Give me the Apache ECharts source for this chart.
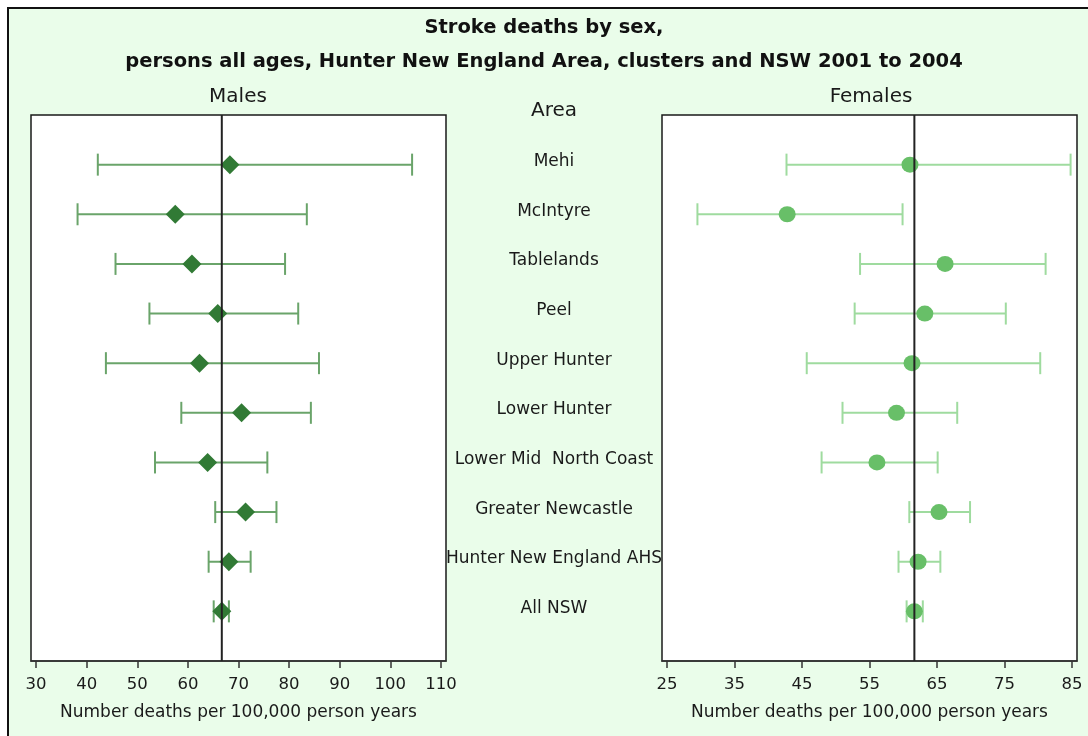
<!DOCTYPE html>
<html>
<head>
<meta charset="utf-8">
<script src="https://cdn.jsdelivr.net/npm/echarts@6/dist/echarts.min.js"></script>
<style>
  html, body { margin: 0; padding: 0; background: #ffffff; }
  #chart { width: 1088px; height: 736px; }
</style>
</head>
<body>
<div id="chart"></div>
<script>
// Stroke death rates (per 100,000 person years) with 95% confidence limits, 2001-2004
const areas = ['Mehi', 'McIntyre', 'Tablelands', 'Peel', 'Upper Hunter', 'Lower Hunter',
  'Lower Mid  North Coast', 'Greater Newcastle', 'Hunter New England AHS', 'All NSW'];

const maleRate = [68.3, 57.5, 60.8, 65.9, 62.3, 70.6, 63.9, 71.4, 68.1, 66.7];
const maleLow  = [42.2, 38.2, 45.7, 52.4, 43.8, 58.7, 53.5, 65.4, 64.1, 65.1];
const maleHigh = [104.3, 83.5, 79.2, 81.8, 85.9, 84.3, 75.7, 77.5, 72.4, 68.1];

const femaleRate = [61.0, 42.8, 66.2, 63.2, 61.3, 59.0, 56.1, 65.3, 62.2, 61.65];
const femaleLow  = [42.7, 29.5, 53.6, 52.8, 45.7, 51.0, 47.9, 60.9, 59.3, 60.5];
const femaleHigh = [84.8, 59.9, 81.1, 75.2, 80.3, 68.0, 65.1, 69.9, 65.5, 62.9];

const maleTicks = [30, 40, 50, 60, 70, 80, 90, 100, 110];
const femaleTicks = [25, 35, 45, 55, 65, 75, 85];

const FONT = 'DejaVu Sans';
const MALE_MARK = '#317a35';
const MALE_BAR = '#6aa46a';
const FEMALE_MARK = '#68bf68';
const FEMALE_BAR = '#9fdb9f';

// rows are numbered 1..N from the top; the reference (All NSW) rate is the last row
const rows = areas.map((_, i) => i + 1);
const nRows = areas.length + 1;

function barData(low, high) {
  return rows.map((r, i) => [r, low[i], high[i]]);
}
function pointData(rate) {
  return rows.map((r, i) => [rate[i], r]);
}

function errorBarRenderer(color) {
  return function (params, api) {
    const y = api.value(0);
    const a = api.coord([api.value(1), y]);
    const b = api.coord([api.value(2), y]);
    const cap = 11;
    const style = { stroke: color, lineWidth: 2 };
    return {
      type: 'group',
      children: [
        { type: 'line', shape: { x1: a[0], y1: a[1], x2: b[0], y2: b[1] }, style: style },
        { type: 'line', shape: { x1: a[0], y1: a[1] - cap, x2: a[0], y2: a[1] + cap }, style: style },
        { type: 'line', shape: { x1: b[0], y1: b[1] - cap, x2: b[0], y2: b[1] + cap }, style: style }
      ]
    };
  };
}

function refLineRenderer(params, api) {
  const top = api.coord([api.value(0), 0]);
  const bottom = api.coord([api.value(0), nRows]);
  return {
    type: 'line',
    shape: { x1: top[0], y1: top[1], x2: bottom[0], y2: bottom[1] },
    style: { stroke: '#222222', lineWidth: 2 }
  };
}

function areaLabelRenderer(params, api) {
  const p = api.coord([0, api.value(1)]);
  return {
    type: 'text',
    x: p[0], y: p[1] - 3,
    style: {
      text: areas[params.dataIndex], fill: '#1a1a1a',
      font: '17px "DejaVu Sans"', align: 'center', verticalAlign: 'middle'
    }
  };
}

function valueAxis(gridIndex, min, max, ticks) {
  return {
    type: 'value', gridIndex: gridIndex, min: min, max: max, position: 'bottom',
    name: 'Number deaths per 100,000 person years',
    nameLocation: 'middle', nameGap: 43,
    nameTextStyle: { fontFamily: FONT, fontSize: 17, color: '#1a1a1a' },
    splitLine: { show: false },
    axisLine: { show: true, onZero: false, lineStyle: { color: '#333', width: 1.5 } },
    axisTick: { show: true, inside: false, length: 7, customValues: ticks, lineStyle: { color: '#333', width: 1.5 } },
    axisLabel: { customValues: ticks, margin: 15, fontFamily: FONT, fontSize: 16.5, color: '#1a1a1a' }
  };
}

function rowAxis(gridIndex) {
  return {
    type: 'value', gridIndex: gridIndex, min: 0, max: nRows, inverse: true,
    show: false, splitLine: { show: false }
  };
}

const gridBox = { show: true, backgroundColor: '#ffffff', borderColor: '#1a1a1a', borderWidth: 1.5 };
const headStyle = { fontFamily: FONT, fontSize: 20, fontWeight: 'normal', color: '#1a1a1a' };
const titleStyle = { fontFamily: FONT, fontSize: 19.5, fontWeight: 'bold', color: '#111' };

const chart = echarts.init(document.getElementById('chart'), null, { renderer: 'canvas' });
chart.setOption({
  animation: false,
  backgroundColor: '#ffffff',
  graphic: [{
    type: 'rect', z: -10, silent: true,
    shape: { x: 8, y: 8, width: 1200, height: 800 },
    style: { fill: '#eafdea', stroke: '#111', lineWidth: 2 }
  }],
  title: [
    { text: 'Stroke deaths by sex,', left: 'center', top: 13, textStyle: titleStyle },
    { text: 'persons all ages, Hunter New England Area, clusters and NSW 2001 to 2004',
      left: 'center', top: 47, textStyle: titleStyle },
    { text: 'Males', left: 233, top: 82, textAlign: 'center', textStyle: headStyle },
    { text: 'Females', left: 866, top: 82, textAlign: 'center', textStyle: headStyle },
    { text: 'Area', left: 549, top: 96, textAlign: 'center', textStyle: headStyle }
  ],
  grid: [
    Object.assign({ left: 31, top: 115, width: 415, height: 546 }, gridBox),
    Object.assign({ left: 662, top: 115, width: 415, height: 546 }, gridBox),
    { left: 446, top: 115, width: 216, height: 546, show: false }
  ],
  xAxis: [
    valueAxis(0, 29, 111, maleTicks),
    valueAxis(1, 24.25, 85.75, femaleTicks),
    { type: 'value', gridIndex: 2, min: -1, max: 1, show: false }
  ],
  yAxis: [rowAxis(0), rowAxis(1), rowAxis(2)],
  series: [
    { type: 'custom', silent: true, xAxisIndex: 0, yAxisIndex: 0, renderItem: errorBarRenderer(MALE_BAR),
      encode: { x: [1, 2], y: 0 }, data: barData(maleLow, maleHigh), z: 2 },
    { type: 'scatter', silent: true, xAxisIndex: 0, yAxisIndex: 0, symbol: 'diamond', symbolSize: [19, 19],
      itemStyle: { color: MALE_MARK, opacity: 1 }, data: pointData(maleRate), z: 3 },
    { type: 'custom', silent: true, xAxisIndex: 0, yAxisIndex: 0, renderItem: refLineRenderer,
      encode: { x: 0 }, data: [[maleRate[maleRate.length - 1]]], z: 4 },

    { type: 'custom', silent: true, xAxisIndex: 1, yAxisIndex: 1, renderItem: errorBarRenderer(FEMALE_BAR),
      encode: { x: [1, 2], y: 0 }, data: barData(femaleLow, femaleHigh), z: 2 },
    { type: 'scatter', silent: true, xAxisIndex: 1, yAxisIndex: 1, symbol: 'circle', symbolSize: [17, 16],
      itemStyle: { color: FEMALE_MARK, opacity: 1 }, data: pointData(femaleRate), z: 3 },
    { type: 'custom', silent: true, xAxisIndex: 1, yAxisIndex: 1, renderItem: refLineRenderer,
      encode: { x: 0 }, data: [[femaleRate[femaleRate.length - 1]]], z: 4 },

    { type: 'custom', silent: true, xAxisIndex: 2, yAxisIndex: 2, renderItem: areaLabelRenderer,
      encode: { x: 0, y: 1 }, data: rows.map(r => [0, r]) }
  ]
});
</script>
</body>
</html>
